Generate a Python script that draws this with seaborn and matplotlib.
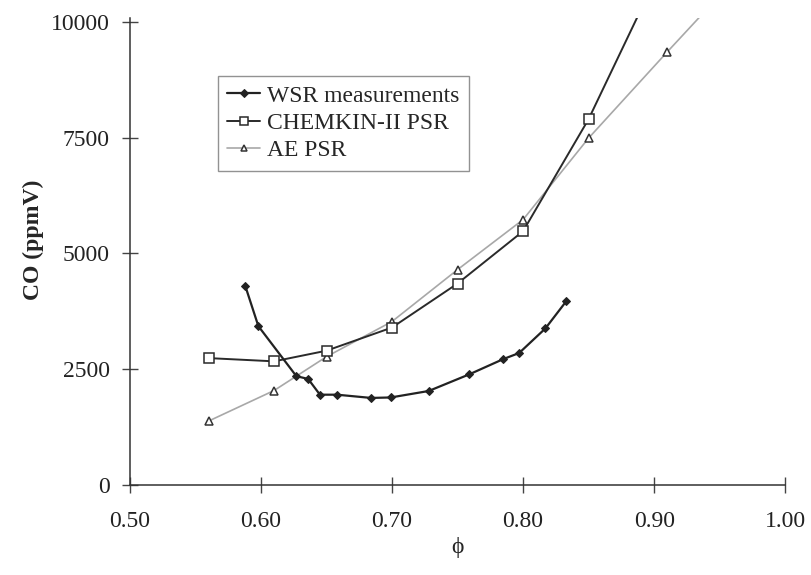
import matplotlib
matplotlib.use("Agg")
import matplotlib.pyplot as plt
import seaborn as sns
import pandas as pd

# Equivalence ratio and CO concentration (ppmV)
wsr_phi = [0.588, 0.598, 0.627, 0.636, 0.645, 0.658, 0.684, 0.699, 0.728,
           0.759, 0.785, 0.797, 0.817, 0.833]
wsr_co = [4300, 3430, 2350, 2290, 1950, 1950, 1880, 1890, 2030,
          2390, 2720, 2850, 3380, 3970]

chemkin_phi = [0.56, 0.61, 0.65, 0.70, 0.75, 0.80, 0.85, 0.90]
chemkin_co = [2740, 2670, 2900, 3400, 4350, 5480, 7900, 10860]

ae_phi = [0.56, 0.61, 0.65, 0.70, 0.75, 0.80, 0.85, 0.91, 0.95]
ae_co = [1380, 2040, 2770, 3530, 4650, 5730, 7490, 9350, 10570]

x_ticks = [0.50, 0.60, 0.70, 0.80, 0.90, 1.00]
y_ticks = [0, 2500, 5000, 7500, 10000]

sns.set_theme(style="white")
plt.rcParams["font.family"] = ["Liberation Serif", "DejaVu Serif"]
plt.rcParams["font.size"] = 17

fig = plt.figure(figsize=(8.12, 5.75), dpi=100)
ax = fig.add_axes([0.160, 0.1565, 0.807, 0.812])

wsr = pd.DataFrame({"phi": wsr_phi, "co": wsr_co})
chem = pd.DataFrame({"phi": chemkin_phi, "co": chemkin_co})
ae = pd.DataFrame({"phi": ae_phi, "co": ae_co})

sns.lineplot(data=ae, x="phi", y="co", ax=ax, sort=False, color="#a8a8a8",
             lw=1.2, marker="^", markersize=5.5, markerfacecolor="white",
             markeredgecolor="#333333", markeredgewidth=1.1,
             label="AE PSR", zorder=2)
sns.lineplot(data=chem, x="phi", y="co", ax=ax, sort=False, color="#2a2a2a",
             lw=1.4, marker="s", markersize=6.5, markerfacecolor="white",
             markeredgecolor="#2a2a2a", markeredgewidth=1.1,
             label="CHEMKIN-II PSR", zorder=3)
sns.lineplot(data=wsr, x="phi", y="co", ax=ax, sort=False, color="#222222",
             lw=1.6, marker="D", markersize=4.5, markerfacecolor="#222222",
             markeredgecolor="#222222", label="WSR measurements", zorder=4)

ax.set_xlim(0.50, 1.00)
ax.set_ylim(0, 10080)
ax.set_xticks(x_ticks)
ax.set_xticklabels([f"{t:.2f}" for t in x_ticks])
ax.set_yticks(y_ticks)
ax.set_yticklabels([str(t) for t in y_ticks])

ax.set_xlabel("ϕ", fontsize=17, labelpad=4)
ax.set_ylabel("CO (ppmV)", fontsize=17, fontweight="bold")
ax.yaxis.set_label_coords(-0.131, 0.525)

for side in ("top", "right"):
    ax.spines[side].set_visible(False)
for side in ("left", "bottom"):
    ax.spines[side].set_color("#333333")
    ax.spines[side].set_linewidth(1.1)

ax.tick_params(axis="both", which="major", bottom=True, left=True,
               direction="inout", length=11, width=1.0,
               color="#444444", labelsize=17, labelcolor="#222222")
ax.tick_params(axis="x", pad=13)
ax.tick_params(axis="y", pad=9)

handles, labels = ax.get_legend_handles_labels()
order = [labels.index(n) for n in ("WSR measurements", "CHEMKIN-II PSR", "AE PSR")]
leg = ax.legend([handles[i] for i in order], [labels[i] for i in order],
                loc="upper left", bbox_to_anchor=(0.134, 0.877),
                borderaxespad=0, frameon=True, fancybox=False,
                handlelength=1.4, handletextpad=0.3, labelspacing=0.25,
                borderpad=0.4, fontsize=17, numpoints=1, markerscale=0.8)
leg.get_frame().set_edgecolor("#777777")
leg.get_frame().set_linewidth(1.0)

fig.savefig("out.png", dpi=100, facecolor="white")
